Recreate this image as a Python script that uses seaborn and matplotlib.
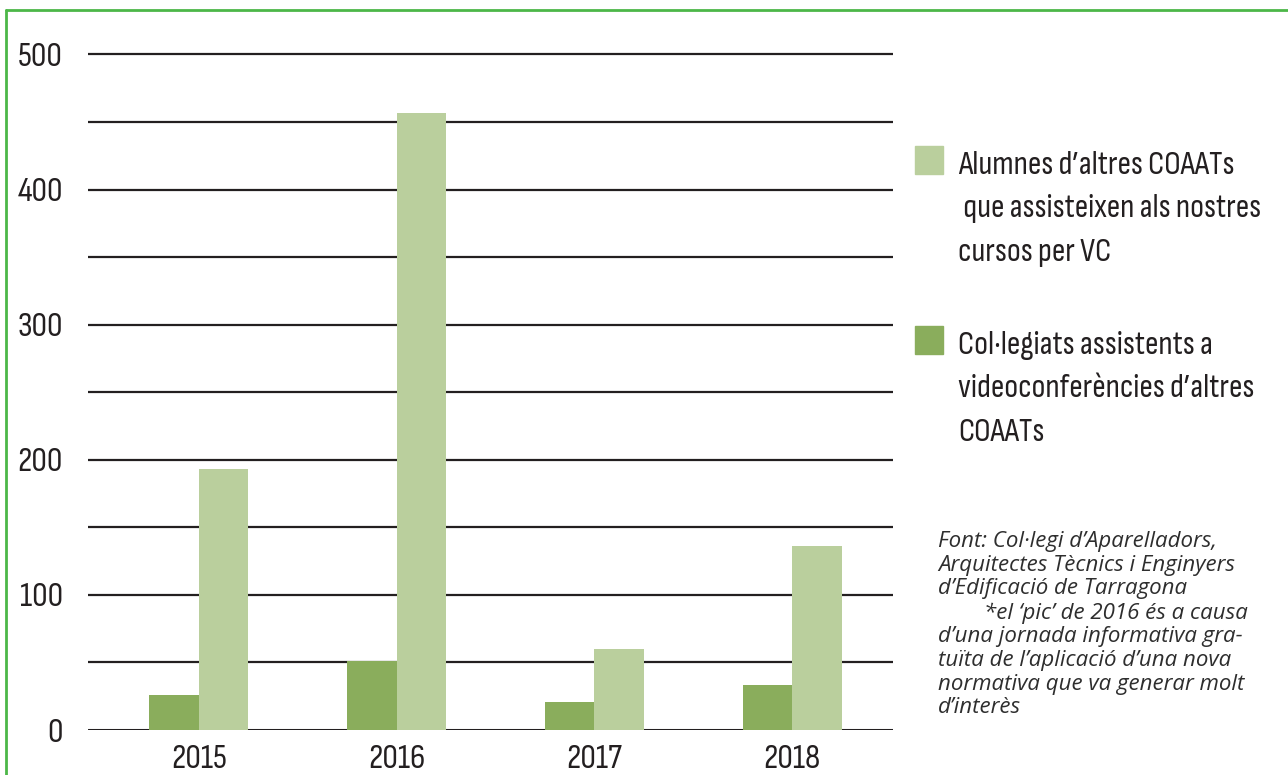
import numpy as np
import pandas as pd
import matplotlib
matplotlib.use('Agg')
import matplotlib.pyplot as plt
import seaborn as sns
from matplotlib.lines import Line2D
from matplotlib.patches import Rectangle

years = ['2015', '2016', '2017', '2018']
collegiats = [26, 51, 21, 33]
alumnes = [193, 457, 60, 136]
series_names = ['Col·legiats', 'Alumnes']
y_ticks = [0, 100, 200, 300, 400, 500]

dark_green = '#8aad5c'
light_green = '#bacf9d'
border_green = '#4cb748'
ink = '#231f20'

df = pd.DataFrame({
    'any': years * 2,
    'serie': [series_names[0]] * 4 + [series_names[1]] * 4,
    'valor': collegiats + alumnes,
})

sns.set_theme(style='white')
plt.rcParams['font.family'] = ['Sofia Sans Condensed', 'Roboto Condensed', 'DejaVu Sans']
plt.rcParams['font.weight'] = 'semibold'

fig = plt.figure(figsize=(12.88, 7.75), dpi=100)
ax = fig.add_axes([88 / 1288, 45 / 775, 805 / 1288, 685 / 775])

# grid lines every 50, behind the bars
for v in range(0, 501, 50):
    ax.axhline(v, color=ink, lw=2.2 if v == 0 else 1.6, zorder=0)

sns.barplot(data=df, x='any', y='valor', hue='serie', hue_order=series_names,
            palette=[dark_green, light_green], width=0.5, dodge=True,
            saturation=1, linewidth=0, legend=False, ax=ax, zorder=2)

ax.set_xlim(-0.56, 3.51)
ax.set_ylim(0, 507)
ax.set_yticks(y_ticks)
ax.set_yticklabels([str(t) for t in y_ticks], fontsize=25, color=ink)
ax.tick_params(axis='x', labelsize=25, labelcolor=ink, length=0, pad=11)
ax.tick_params(axis='y', length=0, pad=18)
ax.set_xlabel('')
ax.set_ylabel('')
for s in ax.spines.values():
    s.set_visible(False)

# legend drawn by hand, square aligned with first line
def legend_entry(y_top, color, lines):
    fig.patches.append(Rectangle((915 / 1288, 1 - (y_top + 28) / 775), 28 / 1288, 28 / 775,
                                 transform=fig.transFigure, color=color))
    fig.text(958 / 1288, 1 - (y_top + 5) / 775, '\n'.join(lines), fontsize=24,
             color=ink, va='top', ha='left', linespacing=1.62)

legend_entry(146, light_green, ['Alumnes d\u2019altres COAATs',
                                ' que assisteixen als nostres',
                                'cursos per VC'])
legend_entry(326, dark_green, ['Col\u00b7legiats assistents a',
                               'videoconfer\u00e8ncies d\u2019altres',
                               'COAATs'])

note = ('Font: Col\u00b7legi d\u2019Aparelladors,\n'
        'Arquitectes T\u00e8cnics i Enginyers\n'
        'd\u2019Edificaci\u00f3 de Tarragona\n'
        '        *el \u2018pic\u2019 de 2016 \u00e9s a causa\n'
        'd\u2019una jornada informativa gra-\n'
        'tu\u00efta de l\u2019aplicaci\u00f3 d\u2019una nova\n'
        'normativa que va generar molt\n'
        'd\u2019inter\u00e8s')
fig.text(938 / 1288, 1 - 531 / 775, note, fontsize=16, style='italic', weight='normal',
         family=['Open Sans', 'DejaVu Sans'], color='#2e2e2e',
         va='top', ha='left', linespacing=1.17)

# green frame: top and left only
fig.lines.append(Line2D([6 / 1288, 1], [1 - 10 / 775, 1 - 10 / 775],
                        transform=fig.transFigure, color=border_green, lw=2))
fig.lines.append(Line2D([6 / 1288, 6 / 1288], [0, 1 - 10 / 775],
                        transform=fig.transFigure, color=border_green, lw=2))

fig.savefig('out.png', dpi=100, facecolor='white')
